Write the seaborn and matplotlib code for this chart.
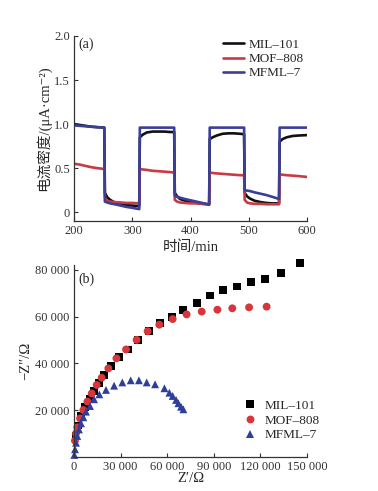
import matplotlib
matplotlib.use("Agg")
import matplotlib.pyplot as plt
import matplotlib.ticker as mticker
import seaborn as sns
import pandas as pd

# ---------------- data: panel (a) photocurrent ----------------
time_min = [200, 210, 220, 230, 240, 252,
            253, 257, 262, 270, 280, 290, 300, 312,
            313, 318, 325, 335, 345, 355, 365, 372,
            373, 377, 382, 390, 400, 410, 420, 432,
            433, 438, 445, 455, 465, 475, 485, 492,
            493, 497, 502, 510, 520, 530, 540, 552,
            553, 558, 565, 575, 585, 600]
mil101_current = [1.00, 0.99, 0.98, 0.97, 0.965, 0.96,
                  0.22, 0.17, 0.14, 0.11, 0.09, 0.08, 0.075, 0.07,
                  0.85, 0.88, 0.905, 0.915, 0.915, 0.915, 0.91, 0.91,
                  0.22, 0.18, 0.15, 0.13, 0.115, 0.105, 0.095, 0.09,
                  0.83, 0.85, 0.87, 0.89, 0.895, 0.895, 0.89, 0.885,
                  0.22, 0.18, 0.155, 0.13, 0.115, 0.105, 0.10, 0.10,
                  0.80, 0.83, 0.85, 0.865, 0.87, 0.875]
mof808_current = [0.55, 0.54, 0.525, 0.51, 0.50, 0.49,
                  0.16, 0.13, 0.12, 0.115, 0.11, 0.105, 0.105, 0.10,
                  0.49, 0.485, 0.48, 0.47, 0.465, 0.46, 0.455, 0.45,
                  0.14, 0.12, 0.11, 0.105, 0.10, 0.10, 0.095, 0.09,
                  0.45, 0.445, 0.44, 0.435, 0.43, 0.425, 0.42, 0.42,
                  0.14, 0.11, 0.10, 0.095, 0.095, 0.09, 0.09, 0.09,
                  0.43, 0.425, 0.42, 0.415, 0.41, 0.40]
mfml7_current = [0.985, 0.98, 0.975, 0.97, 0.965, 0.96,
                 0.12, 0.11, 0.10, 0.09, 0.075, 0.06, 0.05, 0.035,
                 0.96, 0.96, 0.96, 0.96, 0.96, 0.96, 0.96, 0.96,
                 0.19, 0.175, 0.165, 0.15, 0.135, 0.12, 0.105, 0.085,
                 0.96, 0.96, 0.96, 0.96, 0.96, 0.96, 0.96, 0.96,
                 0.25, 0.245, 0.24, 0.225, 0.21, 0.195, 0.175, 0.15,
                 0.96, 0.96, 0.96, 0.96, 0.96, 0.96]

# ---------------- data: panel (b) Nyquist ----------------
mil101_zre = [1000, 2500, 4500, 7000, 10000, 13000, 16000, 19200, 23800, 28700,
              35000, 41300, 48300, 55600, 62900, 70400, 79000, 87600, 96100,
              105200, 113700, 123200, 133300, 145500]
mil101_zim = [9000, 13500, 17500, 21500, 25000, 28200, 31500, 35000, 39100, 42600,
              46000, 50000, 53800, 57200, 60000, 62900, 65900, 69100, 71300,
              72900, 74700, 76000, 78800, 83100]
mof808_zre = [600, 1300, 2100, 3900, 6000, 8600, 11400, 14600, 17800, 22100, 27300,
              33500, 40300, 47400, 54900, 63500, 72500, 82200, 92300, 101900,
              112700, 124000]
mof808_zim = [7000, 10100, 12700, 16500, 20100, 23700, 27200, 30800, 33900, 37900,
              42200, 46000, 50100, 53800, 56600, 59000, 61000, 62200, 63000, 63600,
              64000, 64300]
mfml7_zre = [200, 640, 1300, 2100, 3200, 4500, 6000, 7700, 10300, 12900, 16300,
             20600, 25800, 31100, 36500, 41800, 46800, 52200, 58200, 61400, 63500,
             65700, 67200, 68900, 70400]
mfml7_zim = [900, 3300, 6100, 9000, 11800, 14400, 17000, 19400, 21800, 24700, 26800,
             28700, 30500, 31900, 32800, 32800, 31900, 31100, 29400, 27500, 26100,
             24400, 23000, 21500, 20400]

labels = ["MIL–101", "MOF–808", "MFML–7"]
line_colors = ["#111111", "#c93a42", "#3a3f98"]
marker_colors = ["#000000", "#d8363a", "#2e3f9b"]

# ---------------- style ----------------
sns.set_theme(style="white")
plt.rcParams["font.family"] = ["Liberation Serif", "Noto Sans CJK SC", "DejaVu Sans"]
plt.rcParams["axes.edgecolor"] = "#333333"
plt.rcParams["axes.linewidth"] = 0.9

fig = plt.figure(figsize=(3.78, 4.91), dpi=100)
ax1 = fig.add_axes([0.1958, 0.5499, 0.6164, 0.3768])
ax2 = fig.add_axes([0.1958, 0.0692, 0.6164, 0.3910])

# ---------------- panel (a) ----------------
df_a = pd.concat([
    pd.DataFrame({"t": time_min, "j": mil101_current, "s": labels[0]}),
    pd.DataFrame({"t": time_min, "j": mof808_current, "s": labels[1]}),
    pd.DataFrame({"t": time_min, "j": mfml7_current, "s": labels[2]}),
], ignore_index=True)
sns.lineplot(data=df_a, x="t", y="j", hue="s", hue_order=labels,
             palette=line_colors, estimator=None, sort=False,
             linewidth=1.9, ax=ax1)
ax1.set_xlim(200, 600)
ax1.set_ylim(-0.1, 2.0)
ax1.set_xticks([200, 300, 400, 500, 600])
ax1.set_yticks([0, 0.5, 1.0, 1.5, 2.0])
ax1.set_yticklabels(["0", "0.5", "1.0", "1.5", "2.0"])
ax1.set_xlabel("时间/min", fontsize=10.5, labelpad=2)
ax1.set_ylabel("电流密度/(μA·cm⁻²)", fontsize=10.5, labelpad=2)
ax1.text(0.02, 0.99, "(a)", transform=ax1.transAxes, fontsize=10,
         ha="left", va="top")
leg = ax1.legend(loc="upper left", bbox_to_anchor=(0.64, 0.985), frameon=False,
                 fontsize=9.5, handlelength=1.6, handletextpad=0.3,
                 labelspacing=0.15, borderpad=0, borderaxespad=0)
for h in leg.get_lines():
    h.set_linewidth(1.9)

# ---------------- panel (b) ----------------
df_b = pd.concat([
    pd.DataFrame({"zre": mil101_zre, "zim": mil101_zim, "s": labels[0]}),
    pd.DataFrame({"zre": mof808_zre, "zim": mof808_zim, "s": labels[1]}),
    pd.DataFrame({"zre": mfml7_zre, "zim": mfml7_zim, "s": labels[2]}),
], ignore_index=True)
sns.scatterplot(data=df_b, x="zre", y="zim", hue="s", style="s",
                hue_order=labels, style_order=labels, palette=marker_colors,
                markers={labels[0]: "s", labels[1]: "o", labels[2]: "^"},
                s=32, linewidth=0, ax=ax2, clip_on=False)
ax2.set_xlim(0, 150000)
ax2.set_ylim(0, 82100)
ax2.set_xticks([0, 30000, 60000, 90000, 120000, 150000])
ax2.set_yticks([20000, 40000, 60000, 80000])
fmt = mticker.FuncFormatter(lambda v, p: f"{v:,.0f}".replace(",", " "))
ax2.xaxis.set_major_formatter(fmt)
ax2.yaxis.set_major_formatter(fmt)
ax2.set_xlabel("Z′/Ω", fontsize=10.5, labelpad=-1)
ax2.set_ylabel("−Z″/Ω", fontsize=10.5, labelpad=2)
ax2.text(0.02, 0.96, "(b)", transform=ax2.transAxes, fontsize=10,
         ha="left", va="top")
ax2.legend(loc="upper left", bbox_to_anchor=(0.70, 0.30), frameon=False,
           fontsize=9.5, handletextpad=0.1, labelspacing=0.2,
           borderpad=0, borderaxespad=0, markerscale=1.0)

for ax in (ax1, ax2):
    sns.despine(ax=ax)
    ax.tick_params(direction="in", length=3, width=0.8, labelsize=9,
                   colors="#333333", pad=3, left=True, bottom=True)

fig.savefig("out.png", dpi=100)
